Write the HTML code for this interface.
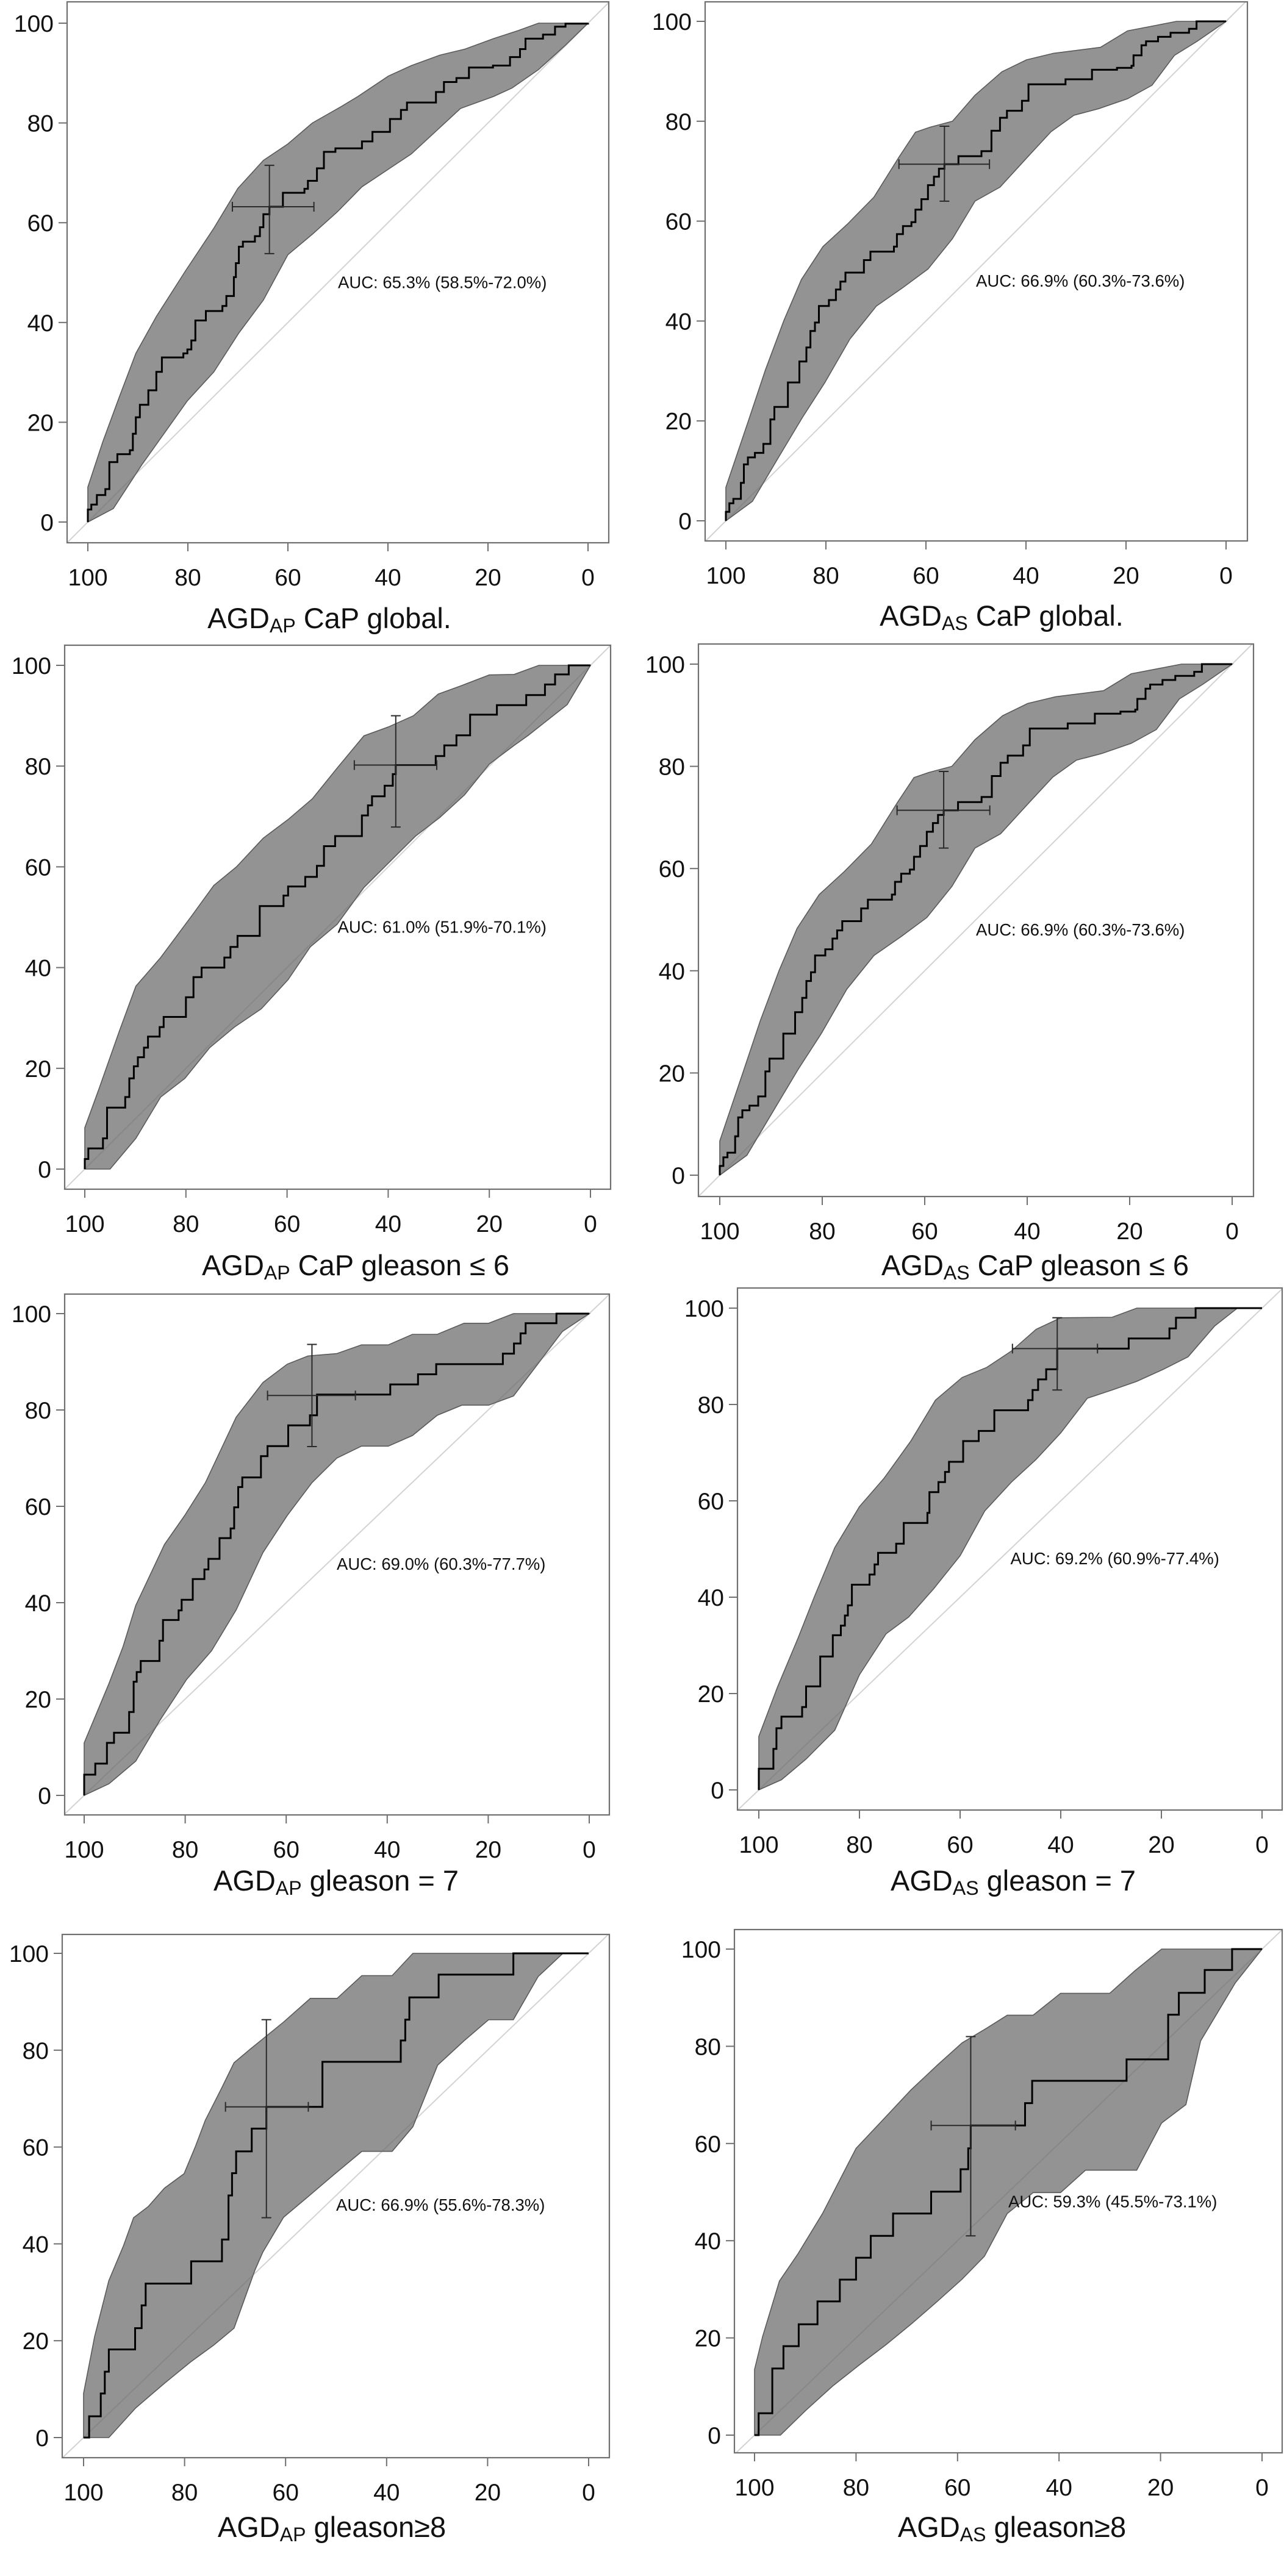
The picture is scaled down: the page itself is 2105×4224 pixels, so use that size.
<!DOCTYPE html>
<html><head><meta charset="utf-8">
<style>
html,body{margin:0;padding:0;background:#fff;}
svg{display:block;}
text{font-family:"Liberation Sans",Arial,sans-serif;fill:#111;}
</style></head>
<body>
<svg id="fig" xmlns="http://www.w3.org/2000/svg" width="2105" height="4224" viewBox="0 0 2105 4224"></svg>
<script>
// ---- Data: [specificity, sensitivity] pairs ----
const xTicks = [100, 80, 60, 40, 20, 0];
const yTicks = [0, 20, 40, 60, 80, 100];

const p1Step = [[100,2.5],[99.3,3.5],[98.2,5.4],[96.5,6.6],[95.7,12],[94.1,13.6],[91.6,14.4],[91.0,17.7],[90.4,21],[89.6,23.5],[87.9,26.4],[86.3,30.1],[85.2,33],[80.9,33.8],[80.1,34.6],[79.3,36.4],[78.5,40.4],[76.4,42.3],[73.1,43.3],[72.3,45.3],[70.8,49.1],[70.4,51.9],[69.8,55.2],[69.0,56.2],[66.6,57.3],[65.6,59.1],[64.9,61.7],[63.7,63.2],[61.0,66],[56.7,66.8],[56.0,68.4],[54.2,70.9],[52.8,74.2],[50.5,74.9],[45.2,76.3],[43.1,78.2],[39.6,80.8],[37.4,82.6],[36.2,84.1],[30.4,86.2],[28.8,88.2],[26.3,89],[23.8,91.1],[19.0,91.5],[15.6,93.2],[13.6,94.8],[12.5,96.9],[9.0,97.7],[6.6,99.3],[4.5,99.9],[0,100]];
const p1Upper = [[100,7],[97,16.1],[93.7,25.1],[90.4,33.8],[86.3,41.2],[80.5,50.3],[74.8,58.9],[70.0,66.9],[64.9,72.5],[60.0,75.8],[55.1,80],[49.3,83.3],[46.0,85.3],[39.9,89.4],[35.3,91.5],[29.6,93.6],[24.6,94.8],[18.9,96.9],[14.0,98.5],[9.9,100],[0,100]];
const p1Lower = [[100,0],[94.9,2.7],[89.2,11.5],[80.1,24.3],[74.8,30.1],[69.8,37.9],[64.9,44.5],[60.0,53.6],[55.1,57.7],[50.1,62.2],[45.2,67.2],[35.3,73.8],[25.5,82.9],[18.9,85.3],[15.2,87],[9.9,90.7],[4.5,95.6],[0,100]];
const p1Cross = [63.7, 63.2, 71.1, 54.8, 71.5, 53.8];

const p2Step = [[100,1.8],[99.3,3.5],[98.5,4.4],[97.0,7.6],[96.4,11.3],[95.6,12.7],[94.2,13.6],[92.5,15.4],[91.1,20.3],[90.3,22.8],[87.6,27.7],[85.3,31.9],[83.9,34.7],[83.1,38],[82.2,39.7],[81.4,43],[79.4,44.2],[78.0,46.3],[77.1,47.9],[76.1,49.7],[72.4,52.2],[71.1,53.9],[66.4,54.9],[65.8,57.4],[64.6,59],[62.9,59.8],[62.1,62.3],[60.9,64.4],[59.6,67.2],[58.4,68.9],[57.4,70.5],[56.3,71.4],[53.5,73],[48.9,74],[46.9,78.1],[45.2,80.7],[43.8,82.1],[40.8,84.1],[39.5,87.4],[32.1,88.4],[26.8,90.3],[21.8,90.7],[18.9,91.1],[18.5,93.2],[16.9,95.2],[16.0,96],[13.6,96.9],[11.1,97.7],[7.4,98.5],[5.9,100],[0,100]];
const p2Upper = [[100,6.7],[95.4,20.3],[92.1,30.2],[88.4,40.1],[84.9,48.3],[80.6,54.9],[75.7,59.4],[70.4,64.8],[65.4,72.8],[62.1,77.8],[59.2,78.8],[54.7,80],[50.2,85.2],[44.8,89.9],[39.9,92.3],[34.5,93.6],[25.1,94.8],[19.7,98.1],[14.0,99.2],[9.9,100],[0,100]];
const p2Lower = [[100,0],[94.7,3.9],[89.6,12.5],[84.7,20.7],[80.2,27.7],[75.2,36.4],[69.9,43],[64.6,46.7],[59.6,50.4],[54.7,56.5],[50.2,64],[45.2,66.8],[39.9,72.6],[35.0,77.9],[30.4,81.2],[25.5,82.5],[19.7,84.5],[14.8,87.2],[10.3,93.2],[5.8,96],[0,100]];
const p2Cross = [56.3, 71.4, 65.4, 47.3, 79, 64];

const p3Step = [[100,2],[99.3,4.1],[96.4,6.1],[95.6,12.2],[92.0,14.3],[91.2,18],[90.3,20.4],[89.5,22.2],[88.3,24.1],[87.5,26.3],[85.2,28.2],[84.4,30.2],[80.0,34.1],[78.5,38.1],[76.9,40],[72.4,42],[71.2,44.1],[69.8,46.3],[65.4,52.2],[60.7,54.3],[59.8,56.1],[56.4,58],[54.1,60.2],[52.7,64.1],[50.5,66.1],[45.2,70.2],[44.0,72.2],[43.2,74],[40.7,76.1],[39.1,78.4],[38.5,80.2],[30.6,82],[28.9,84.1],[26.5,86.1],[23.8,90.2],[18.5,92.1],[12.7,94.1],[9.0,96.2],[7.0,98.2],[4.3,100],[0,100]];
const p3Upper = [[100,8.2],[97.2,15.9],[93.2,27.3],[89.9,36.3],[85.0,42],[78.9,50.2],[74.5,56.3],[70.0,60],[64.7,65.7],[59.8,69.4],[55.0,73.5],[50.1,79.6],[44.8,86],[39.9,87.8],[35.0,90],[30.1,94.3],[25.7,95.9],[20.0,98.1],[15.1,98.2],[10.2,100],[0,100]];
const p3Lower = [[100,0],[95,0],[89.9,6.1],[85.0,14.3],[80.2,18],[75.3,24.1],[70.4,28.2],[65.1,31.8],[59.8,37.6],[55.4,44.1],[50.1,48.6],[44.8,55.9],[39.5,61.2],[34.6,66.1],[29.8,69.8],[24.9,74.3],[20.0,80.4],[15.1,84.1],[12.3,86.1],[4.6,92.2],[0,100]];
const p3Cross = [38.5, 80.2, 46.7, 30.4, 90.0, 67.9];

const p4Step = p2Step.map(p => p.slice());
const p4Upper = p2Upper.map(p => p.slice());
const p4Lower = p2Lower.map(p => p.slice());
const p4Cross = [56.3, 71.4, 65.4, 47.3, 79, 64];

const p5Step = [[100,4.3],[97.8,6.6],[95.5,10.9],[94.1,13],[91.1,17.3],[90.2,23.6],[89.6,25.6],[88.8,27.9],[85.1,32.1],[84.4,36.4],[81.3,38.4],[80.7,40.6],[78.5,44.9],[76.2,46.9],[75.4,49.1],[73.2,53.4],[71.0,55.4],[70.3,59.8],[69.5,64],[68.7,66],[65.0,70.4],[63.7,72.5],[59.6,76.8],[55.3,78.9],[53.9,83.2],[39.4,85.3],[33.9,87.4],[30.3,89.5],[17.1,91.7],[14.9,93.8],[13.6,95.9],[12.6,98],[6.5,100],[0,100]];
const p5Upper = [[100,10.9],[95.1,23.2],[92.3,30.9],[89.8,39.4],[84.1,52.1],[80.1,58.1],[76.0,64.9],[69.9,78.5],[64.6,85.7],[59.8,89.5],[55.7,91.2],[50.0,91.7],[45.1,93.5],[39.8,93.5],[35.0,95.7],[30.1,95.7],[24.8,98],[19.9,98],[15.0,100],[0,100]];
const p5Lower = [[100,0],[95.1,2.4],[89.8,7.1],[85.0,15.6],[79.7,24.1],[74.8,30],[69.9,38.5],[64.6,50.4],[59.8,58.1],[54.9,64.9],[50.0,70],[45.1,72.5],[39.8,72.5],[35.0,74.7],[30.1,78.9],[25.2,81],[19.9,81],[15.0,82.9],[10.2,89.5],[5.3,96.3],[0,100]];
const p5Cross = [54.9, 83, 63.7, 46.3, 93.6, 72.4];

const p6Step = [[100,4.4],[97.1,8.5],[96.5,12.8],[95.5,15.2],[91.4,17.2],[90.6,21.5],[87.8,27.7],[85.3,32.1],[83.7,34.1],[82.9,36.2],[82.3,38.3],[81.5,42.6],[78.0,44.7],[77.0,46.8],[76.3,49.2],[72.7,51.1],[71.2,55.4],[66.5,57.5],[66.1,61.8],[64.3,63.9],[63.0,66],[62.2,68.1],[59.4,72.4],[56.3,74.5],[53.2,78.8],[46.5,80.9],[45.6,83],[44.5,85.2],[42.9,87.3],[40.7,91.6],[26.5,93.7],[18.4,95.8],[17.1,98],[13.2,100],[0,100]];
const p6Upper = [[100,11.1],[96.3,21.3],[92.2,31.5],[89.0,40],[84.9,50.3],[80.0,58.8],[75.1,64.7],[69.8,72.4],[64.9,80.9],[59.6,85.6],[54.7,87.7],[49.8,91.1],[44.9,95.6],[40.0,98],[29.8,98.1],[24.9,100],[0,100]];
const p6Lower = [[100,0],[95.5,2.1],[90.6,6.4],[84.9,12.4],[80.0,23.9],[74.7,32.4],[70.2,35.9],[65.3,41.7],[60.0,48.6],[55.1,57.9],[49.8,63.9],[44.9,68.6],[40.0,74.1],[34.7,81.3],[29.8,83],[24.9,84.8],[19.6,87.3],[14.7,89.9],[9.4,96.3],[4.9,100],[0,100]];
const p6Cross = [40.7, 91.6, 49.6, 32.7, 98, 83];

const p7Step = [[100,0],[98.9,4.4],[96.6,9.1],[95.8,13.6],[95.0,18.2],[89.8,22.6],[88.5,27.3],[87.7,31.8],[78.7,36.4],[72.6,40.9],[71.3,50],[70.6,54.6],[69.8,59.1],[66.7,63.8],[63.8,68.3],[52.7,77.6],[37.2,82],[36.3,86.3],[35.5,90.9],[29.7,95.6],[14.9,100],[0,100]];
const p7Upper = [[100,9.1],[97.8,20.9],[95.0,32.4],[92.1,39.6],[90.1,45.4],[87.2,47.7],[84.0,51.5],[80.1,54.5],[77.9,60],[75.9,65.5],[72.6,72.3],[70.2,77.4],[66.9,80.3],[60.4,85.8],[55.1,90.7],[49.8,90.7],[44.9,95.4],[38.9,95.4],[34.8,100],[5.1,100],[0,100]];
const p7Lower = [[100,0],[95,0],[89.7,6.1],[84.0,11.2],[78.7,15.7],[74.2,19.1],[70.2,22.6],[66.1,34.5],[64.5,38.3],[60.4,45.5],[55.5,49.8],[50.2,54.5],[44.9,59.1],[38.9,59.1],[34.8,64.2],[29.9,76.9],[24.6,82],[19.8,86.3],[14.9,86.3],[10.0,95.2],[5.1,100],[0,100]];
const p7Cross = [63.8, 68.3, 71.9, 55.5, 86.3, 45.4];

const p8Step = [[100,0],[99.2,4.5],[96.5,13.7],[94.3,18.3],[91.3,22.8],[87.6,27.5],[83.2,32],[80.0,36.5],[77.1,41],[72.7,45.6],[65.2,50.1],[59.4,54.7],[57.9,59],[57.4,63.7],[46.7,68.3],[45.3,72.9],[26.7,77.3],[18.5,86.5],[16.4,91],[11.3,95.7],[5.9,100],[0,100]];
const p8Upper = [[100,13.5],[98.4,20.3],[95.1,31.7],[91.5,37.2],[86.6,45.6],[80.0,59],[74.5,65.1],[69.2,71],[64.0,76.1],[59.1,80.7],[54.3,83.7],[50.2,86.4],[45.1,86.4],[39.7,90.9],[30.0,90.9],[25.1,95.5],[19.8,100],[0,100]];
const p8Lower = [[100,0],[94.9,0],[89.9,5.1],[84.6,10.1],[79.4,14.4],[74.1,18.6],[69.2,22.8],[64.0,27.5],[59.1,32.1],[54.7,36.8],[50.2,45.6],[45.1,49.9],[39.7,49.9],[34.8,54.5],[30.0,54.5],[24.7,54.5],[19.8,64.2],[15.0,68],[12.1,81.1],[5.3,93],[0,100]];
const p8Cross = [57.4, 63.7, 65.2, 48.6, 82, 41];

const aucLabels = [
  "AUC: 65.3% (58.5%-72.0%)","AUC: 66.9% (60.3%-73.6%)",
  "AUC: 61.0% (51.9%-70.1%)","AUC: 66.9% (60.3%-73.6%)",
  "AUC: 69.0% (60.3%-77.7%)","AUC: 69.2% (60.9%-77.4%)",
  "AUC: 66.9% (55.6%-78.3%)","AUC: 59.3% (45.5%-73.1%)"];
const titleSubs = ["AP","AS","AP","AS","AP","AS","AP","AS"];
const titleRests = [" CaP global."," CaP global."," CaP gleason \u2264 6"," CaP gleason \u2264 6"," gleason = 7"," gleason = 7"," gleason\u22658"," gleason\u22658"];
const aucPos = [50, 48];

// ---- Layout (pixel geometry, not data) ----
const layout = [
 {L:110,R:998,T:3,B:890,x100:144,x0:964,y100:38,y0:856,tx:540,ty:1030},
 {L:1156,R:2045,T:3,B:887,x100:1190,x0:2010,y100:35,y0:854,tx:1642,ty:1026},
 {L:106,R:1001,T:1058,B:1950,x100:139,x0:968,y100:1091,y0:1917,tx:583,ty:2091},
 {L:1145,R:2055,T:1056,B:1962,x100:1180,x0:2020,y100:1089,y0:1927,tx:1697,ty:2091},
 {L:106,R:999,T:2122,B:2976,x100:138,x0:966,y100:2154,y0:2944,tx:551,ty:3100},
 {L:1209,R:2102,T:2112,B:2968,x100:1244,x0:2069,y100:2145,y0:2935,tx:1661,ty:3100},
 {L:102,R:999,T:3172,B:4030,x100:137,x0:965,y100:3203,y0:3997,tx:544,ty:4160},
 {L:1204,R:2102,T:3164,B:4022,x100:1237,x0:2069,y100:3196,y0:3993,tx:1659,ty:4160}
];
const steps = [p1Step,p2Step,p3Step,p4Step,p5Step,p6Step,p7Step,p8Step];
const uppers = [p1Upper,p2Upper,p3Upper,p4Upper,p5Upper,p6Upper,p7Upper,p8Upper];
const lowers = [p1Lower,p2Lower,p3Lower,p4Lower,p5Lower,p6Lower,p7Lower,p8Lower];
const crosses = [p1Cross,p2Cross,p3Cross,p4Cross,p5Cross,p6Cross,p7Cross,p8Cross];

const NS = "http://www.w3.org/2000/svg";
const svg = document.getElementById("fig");
function mk(tag, attrs, parent){
  const e = document.createElementNS(NS, tag);
  for (const k in attrs) e.setAttribute(k, attrs[k]);
  (parent||svg).appendChild(e);
  return e;
}

layout.forEach((g, i) => {
  const sx = v => g.x100 + (100 - v) / 100 * (g.x0 - g.x100);
  const sy = v => g.y0 - v / 100 * (g.y0 - g.y100);
  const grp = mk("g", {});
  
  

  const cid = "clip" + i;
  const cp = mk("clipPath", {id: cid}, grp);
  mk("rect", {x:g.L, y:g.T, width:g.R-g.L, height:g.B-g.T}, cp);

  const up = uppers[i], lo = lowers[i];
  let d = "M" + up.map(p => sx(p[0]).toFixed(1) + "," + sy(p[1]).toFixed(1)).join(" L");
  d += " L" + lo.slice().reverse().map(p => sx(p[0]).toFixed(1) + "," + sy(p[1]).toFixed(1)).join(" L") + " Z";
  const band = mk("path", {d:d, fill:"#939393", stroke:"#5a5a5a", "stroke-width":"1.6", "clip-path":"url(#"+cid+")"}, grp);
  
  

  const diag = mk("line", {x1:sx(106), y1:sy(-6), x2:sx(-6), y2:sy(106), stroke:"rgba(110,110,110,0.3)", "stroke-width":"2", "clip-path":"url(#"+cid+")"}, grp);
  
  

  const st = steps[i];
  let sd = "M" + sx(st[0][0]).toFixed(1) + "," + sy(0).toFixed(1);
  let prevY = 0;
  st.forEach(p => {
    sd += " L" + sx(p[0]).toFixed(1) + "," + sy(prevY).toFixed(1);
    sd += " L" + sx(p[0]).toFixed(1) + "," + sy(p[1]).toFixed(1);
    prevY = p[1];
  });
  const roc = mk("path", {d:sd, fill:"none", stroke:"#000", "stroke-width":"3", "stroke-linejoin":"miter"}, grp);
  
  

  const c = crosses[i];
  const cg = mk("g", {stroke:"#2a2a2a", "stroke-width":"2", fill:"none"}, grp);
  
  
  mk("line", {x1:sx(c[2]), y1:sy(c[1]), x2:sx(c[3]), y2:sy(c[1])}, cg);
  mk("line", {x1:sx(c[0]), y1:sy(c[4]), x2:sx(c[0]), y2:sy(c[5])}, cg);
  mk("line", {x1:sx(c[2]), y1:sy(c[1])-8, x2:sx(c[2]), y2:sy(c[1])+8}, cg);
  mk("line", {x1:sx(c[3]), y1:sy(c[1])-8, x2:sx(c[3]), y2:sy(c[1])+8}, cg);
  mk("line", {x1:sx(c[0])-8, y1:sy(c[4]), x2:sx(c[0])+8, y2:sy(c[4])}, cg);
  mk("line", {x1:sx(c[0])-8, y1:sy(c[5]), x2:sx(c[0])+8, y2:sy(c[5])}, cg);

  const fr = mk("rect", {x:g.L, y:g.T, width:g.R-g.L, height:g.B-g.T, fill:"none", stroke:"#707070", "stroke-width":"2.2"}, grp);
  
  

  yTicks.forEach(t => {
    const y = sy(t);
    const tk = mk("line", {x1:g.L-14, y1:y, x2:g.L, y2:y, stroke:"#707070", "stroke-width":"2"}, grp);
    
    
    const tl = mk("text", {x:g.L-22, y:y+14, "text-anchor":"end", "font-size":"39"}, grp);
    tl.textContent = t;
    
    
  });
  xTicks.forEach(t => {
    const x = sx(t);
    const tk = mk("line", {x1:x, y1:g.B, x2:x, y2:g.B+14, stroke:"#707070", "stroke-width":"2"}, grp);
    
    
    const tl = mk("text", {x:x, y:g.B+70, "text-anchor":"middle", "font-size":"39"}, grp);
    tl.textContent = t;
    
    
  });

  const at = mk("text", {x:sx(aucPos[0]), y:sy(aucPos[1])+9, "font-size":"27.5"}, grp);
  at.textContent = aucLabels[i];
  
  

  const tt = mk("text", {x:g.tx, y:g.ty, "text-anchor":"middle", "font-size":"47"}, grp);
  
  
  const s1 = mk("tspan", {}, tt); s1.textContent = "AGD";
  const s2 = mk("tspan", {"font-size":"32", dy:"7"}, tt); s2.textContent = titleSubs[i];
  const s3 = mk("tspan", {dy:"-7"}, tt); s3.textContent = titleRests[i];
});
</script>
</body></html>
